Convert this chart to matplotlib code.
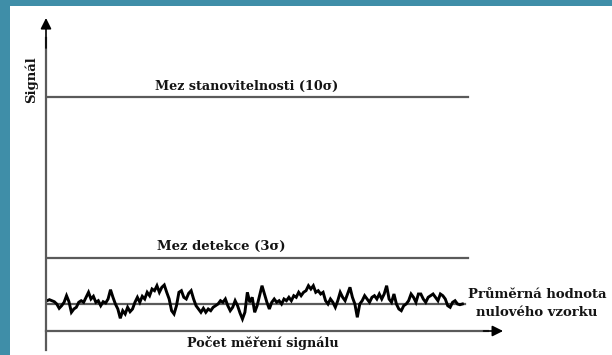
import numpy as np
import matplotlib
matplotlib.use("Agg")
import matplotlib.pyplot as plt
from matplotlib.patches import Rectangle

# signal levels (arbitrary units)
blank_mean = 2.7
detect_limit = 7.3      # Mez detekce (3 sigma)
quant_limit = 23.4      # Mez stanovitelnosti (10 sigma)

# blank sample noise around the mean
noise = [0.33, 0.43, 0.33, 0.23, 0.0, -0.43, -0.17, 0.17, 0.83, 0.23,
         -0.83, -0.5, -0.33, 0.17, 0.33, 0.17, 0.67, 1.17, 0.5, 0.77,
         0.17, 0.33, -0.17, 0.23, 0.1, 0.5, 1.43, 0.67, 0.0, -0.5,
         -1.43, -0.67, -1.0, -0.33, -0.77, -0.5, 0.17, 0.67, 0.17, 0.77,
         0.5, 1.17, 0.83, 1.5, 1.33, 1.83, 1.17, 1.67, 1.9, 1.17,
         0.5, -0.67, -1.0, -0.17, 1.17, 1.33, 0.67, 0.5, 1.07, 1.33,
         0.5, -0.17, -0.5, -0.83, -0.43, -0.83, -0.5, -0.67, -0.33, -0.17,
         0.0, 0.33, 0.17, 0.5, -0.17, -0.67, -0.33, 0.33, -0.17, -0.9,
         -1.5, -0.83, 1.17, 0.17, 0.67, -0.83, -0.17, 0.83, 1.83, 1.0,
         0.17, -0.5, 0.17, 0.5, 0.17, 0.33, 0.0, 0.5, 0.33, 0.67,
         0.33, 0.83, 0.67, 1.17, 0.83, 1.17, 1.33, 1.83, 1.5, 1.83,
         1.17, 1.33,
         1.0, 1.17, 0.33, 0.0, 0.5, 0.17, -0.33, 0.33, 1.17, 0.67,
         0.33, 1.0, 1.67, 0.67, 0.0, -1.33, 0.0, 0.33, 0.83, 0.5,
         0.17, 0.67, 0.83, 0.5, 1.0, 0.5, 1.0, 1.83, 0.5, 0.17,
         1.0, 0.0, -0.5, -0.67, -0.17, 0.0, 0.33, 1.0, 0.67, 0.17,
         1.0, 1.0, 0.5, 0.17, 0.67, 0.83, 1.0, 0.67, 0.33, 1.0,
         0.83, 0.5, -0.17, -0.33, 0.17, 0.33, 0.0, -0.07, 0.0]

y_label = "Signál"
x_label = "Počet měření signálu"
quant_label = "Mez stanovitelnosti (10σ)"
detect_label = "Mez detekce (3σ)"
mean_label = "Průměrná hodnota\nnulového vzorku"

teal = "#3f8ea8"
line_grey = "#5a5a5a"

n = len(noise)
meas = np.arange(n)
signal = blank_mean + np.array(noise)
x_end = (n - 1) * 1.0135        # horizontal lines run a bit past the noise
x_tip = (n - 1) * 1.098         # x axis arrow tip
y_tip = 31.3

fig = plt.figure(figsize=(6.12, 3.55), dpi=100, facecolor=teal)
fig.patches.append(Rectangle((10 / 612, 0), 602 / 612, 349 / 355,
                             transform=fig.transFigure, facecolor="white",
                             edgecolor="none", zorder=-10))

ax = fig.add_axes([46 / 612, 5 / 355, 460 / 612, 335 / 355])
ax.set_xlim(-0.4, (n - 1) * 1.105)
ax.set_ylim(-1.9, 31.6)
ax.axis("off")

font = dict(family="DejaVu Serif", weight="bold", color="#141414")

# threshold lines and mean
ax.plot([0, x_end], [quant_limit, quant_limit], color=line_grey, lw=1.6)
ax.plot([0, x_end], [detect_limit, detect_limit], color=line_grey, lw=1.6)
ax.plot([0, n], [blank_mean, blank_mean], color=line_grey, lw=1.6)

# noise of the blank sample
ax.plot(meas, signal, color="black", lw=2.1, solid_joinstyle="miter")

# axes with arrows
ax.plot([-0.4, -0.4], [-1.9, y_tip - 2], color=line_grey, lw=1.6, clip_on=False)
ax.plot([-0.4, x_tip - 6], [0, 0], color=line_grey, lw=1.6, clip_on=False)
ax.annotate("", xy=(-0.4, y_tip), xytext=(-0.4, y_tip - 3),
            arrowprops=dict(arrowstyle="-|>", color="black", lw=1.2,
                            mutation_scale=16, shrinkA=0, shrinkB=0))
ax.annotate("", xy=(x_tip, 0), xytext=(x_tip - 8, 0),
            arrowprops=dict(arrowstyle="-|>", color="black", lw=1.2,
                            mutation_scale=16, shrinkA=0, shrinkB=0))

ax.text(81.7, 24.5, quant_label, ha="center", va="center", fontsize=9.2, **font)
ax.text(71.5, 8.5, detect_label, ha="center", va="center", fontsize=9.5, **font)
ax.text(200.6, blank_mean, mean_label, ha="center", va="center", fontsize=9.5,
        linespacing=1.5, clip_on=False, **font)
ax.text(88.3, -1.2, x_label, ha="center", va="center", fontsize=9.2,
        clip_on=False, **font)
ax.text(-6.3, 25.1, y_label, ha="center", va="center", rotation=90,
        fontsize=9.5, clip_on=False, **font)

fig.savefig("out.png", dpi=100, facecolor=teal)
